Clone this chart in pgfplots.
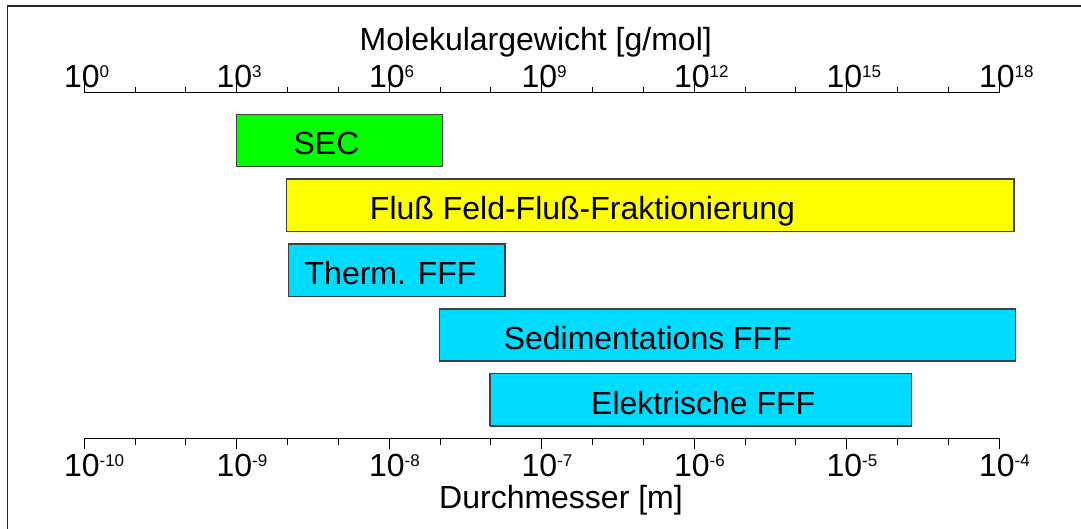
\documentclass[border=0pt]{standalone}
\usepackage{pgfplots}
\pgfplotsset{compat=1.18}
\usepackage{fontspec}
\setmainfont{Liberation Sans}
\definecolor{cgreen}{RGB}{0,255,0}
\definecolor{cyellow}{RGB}{255,255,0}
\definecolor{ccyan}{RGB}{0,220,255}
\newcommand\tsup[1]{\rlap{\raisebox{10pt}{\fontsize{17}{17}\selectfont #1}}}
\newcommand\bigf{\fontsize{32}{36}\selectfont}
\begin{document}
\begin{tikzpicture}[x=1pt,y=1pt]
\useasboundingbox (0,0) rectangle (1081,529);
\fill[white] (0,0) rectangle (1081,529);
\draw[line width=1.3pt, black!85] (7.5,0) -- (7.5,523) -- (1081,523);
% bottom axis: diameter (log10 m)
\begin{axis}[at={(84.3pt,90.7pt)}, anchor=south west,
  width=915pt, height=345.6pt, scale only axis,
  xmin=-10, xmax=-4, ymin=0, ymax=345.6,
  axis x line*=bottom, hide y axis, clip=false,
  xtick={-10,-9,-8,-7,-6,-5,-4}, minor x tick num=2,
  tick align=outside, major tick length=11pt, minor tick length=7pt,
  axis line style={line width=1pt, black},
  every tick/.style={line width=1pt, black},
  xticklabels={{10\tsup{-10}},{10\tsup{-9}},{10\tsup{-8}},{10\tsup{-7}},{10\tsup{-6}},{10\tsup{-5}},{10\tsup{-4}}},
  xticklabel style={font=\bigf, anchor=base, yshift=-27.5pt, xshift=-2.5pt, inner sep=0pt},
]
\addplot[fill=cgreen, draw=black!75, line width=1.2pt, line join=miter] coordinates {(-9.000,271.6) (-7.652,271.6) (-7.652,324.0) (-9.000,324.0) (-9.000,271.6)};
\addplot[fill=cyellow, draw=black!75, line width=1.2pt, line join=miter] coordinates {(-8.673,206.6) (-3.904,206.6) (-3.904,259.3) (-8.673,259.3) (-8.673,206.6)};
\addplot[fill=ccyan, draw=black!75, line width=1.2pt, line join=miter] coordinates {(-8.662,141.6) (-7.241,141.6) (-7.241,194.3) (-8.662,194.3) (-8.662,141.6)};
\addplot[fill=ccyan, draw=black!75, line width=1.2pt, line join=miter] coordinates {(-7.672,77.3) (-3.895,77.3) (-3.895,129.3) (-7.672,129.3) (-7.672,77.3)};
\addplot[fill=ccyan, draw=black!75, line width=1.2pt, line join=miter] coordinates {(-7.340,12.3) (-4.574,12.3) (-4.574,65.0) (-7.340,65.0) (-7.340,12.3)};
\node[anchor=base west, font=\bigf, inner sep=0pt, xshift=-1.5pt] at (axis cs:-8.619,284) {SEC};
\node[anchor=base west, font=\bigf, inner sep=0pt, xshift=-2pt] at (axis cs:-8.115,219) {Flu{\ss} Feld-Flu{\ss}-Fraktionierung};
\node[anchor=base west, font=\bigf, inner sep=0pt, xshift=-0.5pt] at (axis cs:-8.553,154) {Therm. FFF};
\node[anchor=base west, font=\bigf, inner sep=0pt, xshift=-1.5pt] at (axis cs:-7.241,88.3) {Sedimentations FFF};
\node[anchor=base west, font=\bigf, inner sep=0pt, xshift=-2pt] at (axis cs:-6.664,24) {Elektrische FFF};
\end{axis}
% top axis: molecular weight
\begin{axis}[at={(84.3pt,90.7pt)}, anchor=south west,
  width=915pt, height=345.6pt, scale only axis,
  xmin=0, xmax=18, ymin=0, ymax=345.6,
  axis x line*=top, hide y axis, clip=false,
  xtick={0,3,6,9,12,15,18}, minor x tick num=2,
  tick align=outside, major tick length=13pt, minor tick length=6pt,
  axis line style={line width=1pt, black},
  every tick/.style={line width=1pt, black},
  xticklabels={{10\tsup{0}},{10\tsup{3}},{10\tsup{6}},{10\tsup{9}},{10\tsup{12}},{10\tsup{15}},{10\tsup{18}}},
  xticklabel style={font=\bigf, anchor=base, yshift=-7.5pt, xshift=-2.5pt, inner sep=0pt},
]
\end{axis}
\node[anchor=base west, font=\bigf, inner sep=0pt] at (359.5,478.3) {Molekulargewicht [g/mol]};
\node[anchor=base west, font=\bigf, inner sep=0pt] at (439,20.7) {Durchmesser [m]};
\end{tikzpicture}
\end{document}
